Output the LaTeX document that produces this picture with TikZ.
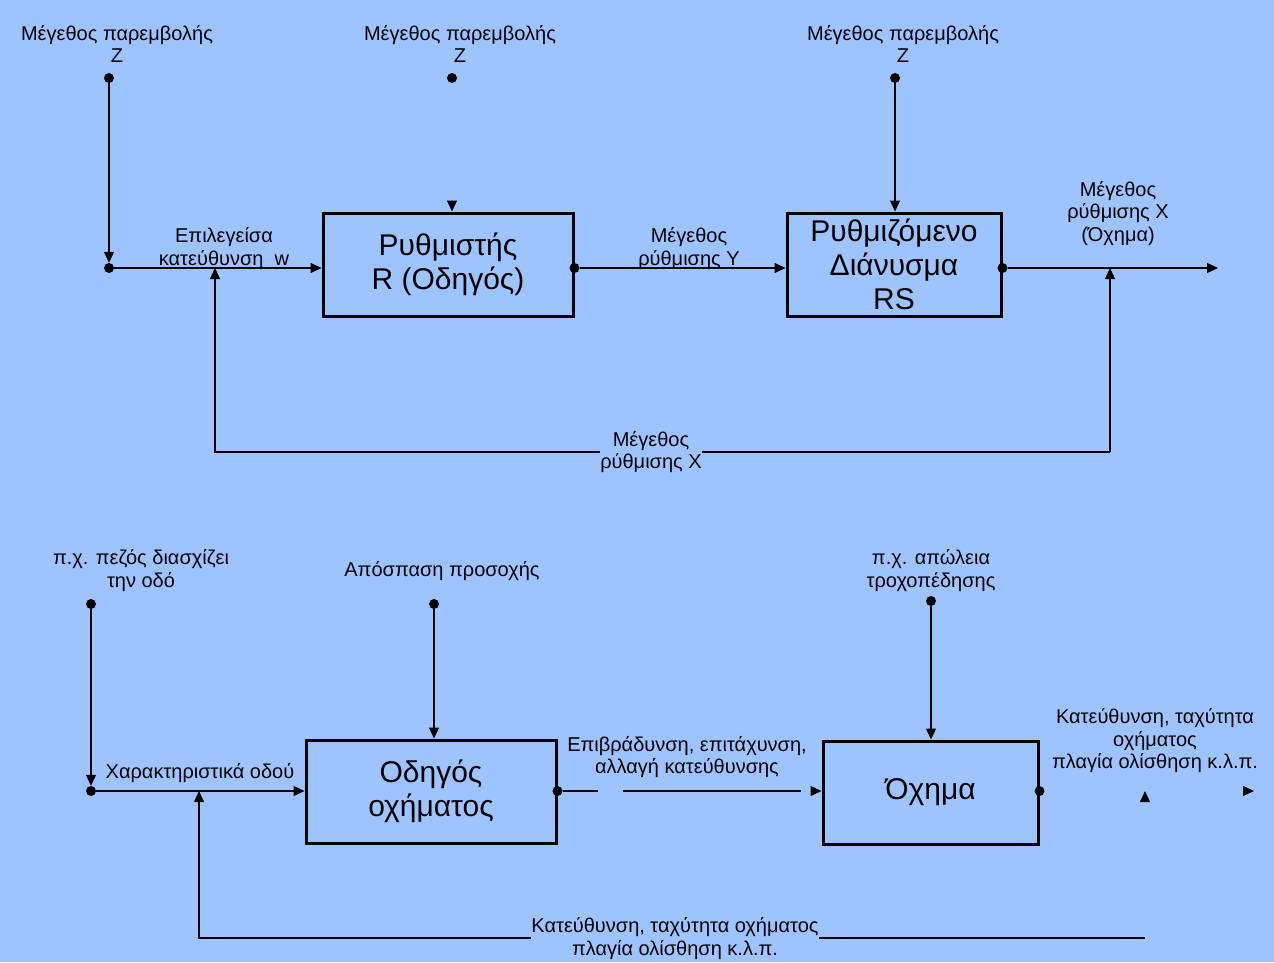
\documentclass[tikz,border=0pt]{standalone}
\usepackage{fontspec}
\setmainfont{Liberation Sans}
\usetikzlibrary{arrows.meta}
\definecolor{bgblue}{RGB}{158,196,255}

\begin{document}
\begin{tikzpicture}[x=1pt, y=-1pt, >={Triangle[length=11pt,width=10pt]},
    lbl/.style={align=center, inner sep=0pt, font=\fontsize{20}{22.5}\selectfont},
    blk/.style={draw, line width=3pt, align=center, minimum height=103pt, font=\fontsize{30}{34}\selectfont},
    wire/.style={line width=1.2pt},
    ghost/.style={draw=bgblue, line width=1.2pt, -{Triangle[length=11pt,width=10pt,black]}},
    pin/.style={circle, fill, inner sep=0pt, minimum size=10pt}]
\fill[bgblue] (0,0) rectangle (1274,962);
\useasboundingbox (0,0) rectangle (1274,962);

\node[lbl] (z1) at (117,44) {Μέγεθος παρεμβολής\\Z};
\node[lbl] (z2) at (460,44) {Μέγεθος παρεμβολής\\Z};
\node[lbl] (z3) at (903,44) {Μέγεθος παρεμβολής\\Z};
\node[pin] (p1) at (109,78) {};
\node[pin] (p2) at (452,78) {};
\node[pin] (p3) at (895,78) {};
\node[pin] (j1) at (109,268) {};
\node[blk, minimum width=250pt] (R) at (448,264.5) {Ρυθμιστής\\R (Οδηγός)};
\node[blk, minimum width=214pt] (RS) at (894,264.5) {Ρυθμιζόμενο\\Διάνυσμα\\RS};
\node[pin] (r1) at (R.east |- j1) {};
\node[pin] (r2) at (RS.east |- j1) {};
\coordinate (out1) at (1218,268);
\coordinate (fbR) at (1110,452);
\coordinate (fbL) at (215,452);

\draw[wire,->] (p1) -- (j1);
\draw[ghost] (p2) -- (p2 |- R.north);
\draw[wire,->] (p3) -- (p3 |- RS.north);
\draw[wire,->] (j1) -- (R.west |- j1);
\draw[wire,->] (r1) -- (RS.west |- j1);
\draw[wire,->] (r2) -- (out1);
\draw[wire,->] (fbR) -- (fbR |- j1);
\draw[wire,->] (fbR) -- (fbL) -- (fbL |- j1);
\node[lbl] at (224,248.5) {Επιλεγείσα\\κατεύθυνση\ \ w};
\node[lbl] at (689,248.5) {Μέγεθος\\ρύθμισης Y};
\node[lbl] at (1118,213.5) {Μέγεθος\\ρύθμισης X\\(Όχημα)};
\node[lbl, fill=bgblue] at (651,452) {Μέγεθος\\ρύθμισης X};

\node[lbl] (e1) at (141,570.5) {π.χ. πεζός διασχίζει\\την οδό};
\node[lbl] (e2) at (442,571) {Απόσπαση προσοχής};
\node[lbl] (e3) at (931,570.5) {π.χ. απώλεια\\τροχοπέδησης};
\node[pin] (p4) at (91,604) {};
\node[pin] (p5) at (434,604) {};
\node[pin] (p6) at (931,601) {};
\node[pin] (j2) at (91,791) {};
\node[blk, minimum width=250pt] (D) at (431,791.5) {Οδηγός\\οχήματος};
\node[blk, minimum width=215pt] (C) at (930.5,792.5) {Όχημα};
\node[pin] (d1) at (D.east |- j2) {};
\node[pin] (c1) at (C.east |- j2) {};
\coordinate (g1) at (598,791);
\coordinate (g2) at (623,791);
\coordinate (g3) at (801,791);
\coordinate (out2) at (1254,791);
\coordinate (fb2R) at (1145,938);
\coordinate (fb2L) at (199,938);

\draw[wire,->] (p4) -- (j2);
\draw[wire,->] (p5) -- (p5 |- D.north);
\draw[wire,->] (p6) -- (p6 |- C.north);
\draw[wire,->] (j2) -- (D.west |- j2);
\draw[wire] (d1) -- (g1);
\draw[wire] (g2) -- (g3);
\draw[ghost] (g3) -- (C.west |- j2);
\draw[ghost] (c1) -- (out2);
\draw[ghost] (fb2R) -- (fb2R |- j2);
\draw[wire,->] (fb2R) -- (fb2L) -- (fb2L |- j2);
\node[lbl] at (200,773) {Χαρακτηριστικά οδού};
\node[lbl] at (687,757) {Επιβράδυνση, επιτάχυνση,\\αλλαγή κατεύθυνσης};
\node[lbl] at (1155,741) {Κατεύθυνση, ταχύτητα\\οχήματος\\πλαγία ολίσθηση κ.λ.π.};
\node[lbl, fill=bgblue] at (675,938.5) {Κατεύθυνση, ταχύτητα οχήματος\\πλαγία ολίσθηση κ.λ.π.};
\end{tikzpicture}
\end{document}
